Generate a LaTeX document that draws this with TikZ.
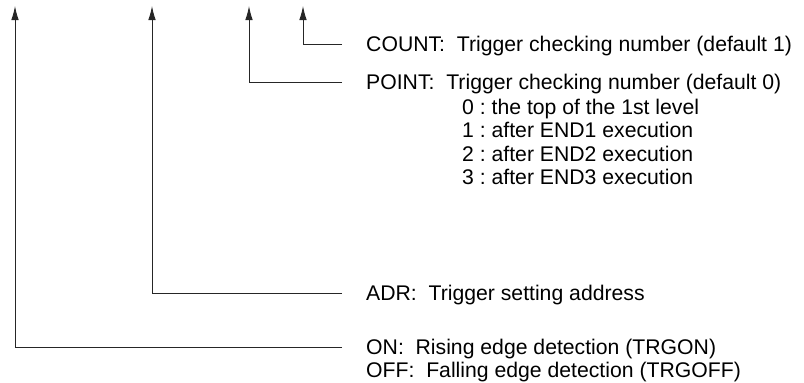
\documentclass[tikz,border=0pt]{standalone}
\usepackage{fontspec}
\setmainfont{Liberation Sans}
\usetikzlibrary{arrows.meta}
\frenchspacing
\begin{document}
\begin{tikzpicture}[x=1pt,y=-1pt,
  conn/.style={draw=black!85, line width=0.9pt, -{Latex[length=14pt,width=7.5pt]}},
  lbl/.style={anchor=base west, inner sep=0pt, font=\fontsize{21.2}{24}\selectfont}]
\useasboundingbox (0,0) rectangle (804,383);
% arrow tips
\coordinate (t1) at (15,6);
\coordinate (t2) at (152,6);
\coordinate (t3) at (249,6);
\coordinate (t4) at (303,6);
% line ends
\coordinate (e4) at (342,44);
\coordinate (e3) at (342,82);
\coordinate (e2) at (342,293);
\coordinate (e1) at (342,347);
% labels
\node[lbl] (count) at (366,51.5) {COUNT:\ \ Trigger checking number (default 1)};
\node[lbl] (point) at (366,89.5) {POINT:\ \ Trigger checking number (default 0)};
\node[lbl] (p0) at (462,114) {0 : the top of the 1st level};
\node[lbl] (p1) at (462,137.5) {1 : after END1 execution};
\node[lbl] (p2) at (462,161) {2 : after END2 execution};
\node[lbl] (p3) at (462,184.5) {3 : after END3 execution};
\node[lbl] (adr) at (366,300.5) {ADR:\ \ Trigger setting address};
\node[lbl] (on) at (366,354.5) {ON:\ \ Rising edge detection (TRGON)};
\node[lbl] (off) at (366,377.5) {OFF:\ \ Falling edge detection (TRGOFF)};
% connectors
\draw[conn] (e4) -| (t4);
\draw[conn] (e3) -| (t3);
\draw[conn] (e2) -| (t2);
\draw[conn] (e1) -| (t1);
\end{tikzpicture}
\end{document}
